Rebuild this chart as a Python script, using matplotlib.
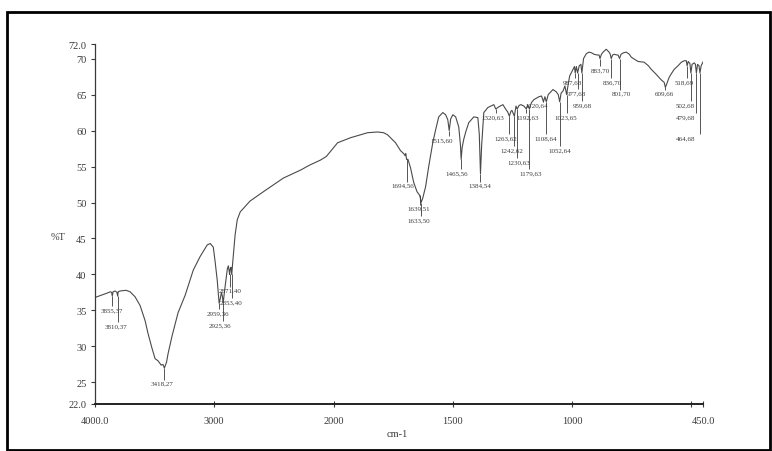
import numpy as np
import matplotlib.pyplot as plt
from matplotlib.patches import Rectangle

# ===== SPECTRUM DATA (wavenumber cm-1, %T) =====
wavenumber = [
    4000, 3950, 3900, 3870, 3860, 3855, 3848, 3830, 3815, 3810, 3805, 3790,
    3740, 3706, 3664, 3622, 3580, 3555, 3521, 3496, 3471, 3445, 3430, 3418,
    3400, 3387, 3353, 3303, 3244, 3176, 3118, 3059, 3034, 3008, 2992, 2975,
    2966, 2959, 2950, 2940, 2932, 2925, 2915, 2900, 2890, 2882, 2876, 2871,
    2866, 2860, 2853, 2846, 2838, 2825, 2807, 2782, 2700, 2588, 2500, 2420,
    2277, 2200, 2109, 2060, 2025, 1983, 1929, 1857, 1815, 1790, 1773, 1740,
    1719, 1706, 1700, 1697, 1694, 1688, 1677, 1664, 1650, 1639, 1636, 1633,
    1626, 1614, 1601, 1584, 1572, 1559, 1542, 1530, 1521, 1515, 1509, 1500,
    1488, 1475, 1468, 1465, 1461, 1454, 1445, 1433, 1412, 1395, 1389, 1384,
    1379, 1374, 1370, 1353, 1328, 1320, 1307, 1290, 1277, 1270, 1263, 1256,
    1252, 1242, 1235, 1230, 1222, 1214, 1202, 1192, 1186, 1179, 1170, 1160,
    1139, 1128, 1120, 1114, 1108, 1100, 1080, 1067, 1058, 1052, 1046, 1038,
    1030, 1023, 1016, 1010, 996, 990, 987, 982, 977, 970, 963, 959,
    952, 940, 929, 918, 908, 895, 887, 883, 877, 870, 857, 845,
    840, 836, 830, 824, 812, 807, 801, 795, 785, 773, 760, 752,
    738, 723, 698, 680, 668, 650, 639, 625, 614, 609, 603, 593,
    582, 572, 556, 542, 530, 521, 518, 513, 506, 502, 497, 488,
    483, 479, 474, 468, 464, 459, 450,
]
transmittance = [
    36.8, 37.1, 37.4, 37.6, 37.5, 37.0, 37.6, 37.7, 37.5, 37.0, 37.6, 37.7,
    37.8, 37.6, 36.9, 35.7, 33.6, 31.8, 29.7, 28.3, 28.0, 27.4, 27.5, 27.0,
    27.8, 29.0, 31.5, 34.7, 37.1, 40.6, 42.5, 44.1, 44.3, 43.8, 41.7, 39.2,
    37.3, 36.0, 36.6, 37.5, 37.0, 36.0, 37.5, 39.5, 40.8, 41.2, 40.6, 40.0,
    40.8, 41.0, 40.0, 41.5, 43.0, 45.5, 47.6, 48.7, 50.2, 51.5, 52.5, 53.4,
    54.5, 55.2, 55.9, 56.4, 57.1, 58.3, 59.0, 59.7, 59.8, 59.7, 59.4, 58.3,
    57.2, 56.8, 56.5, 56.8, 56.0, 56.0, 54.8, 52.8, 51.5, 51.0, 50.6, 50.0,
    50.6, 52.2, 55.0, 58.3, 60.1, 61.9, 62.5, 62.2, 61.5, 60.0, 61.6, 62.2,
    61.9, 60.5, 58.0, 56.0, 57.6, 58.8, 59.9, 61.1, 61.9, 61.8, 59.5, 54.0,
    58.0, 60.5, 62.5, 63.2, 63.6, 63.0, 63.3, 63.6, 62.9, 62.6, 62.0, 62.7,
    62.8, 62.0, 63.4, 63.0, 63.5, 63.6, 63.4, 63.0, 63.6, 63.0, 63.9, 64.3,
    64.7, 64.8, 64.0, 64.7, 64.0, 65.0, 65.7, 65.4, 65.0, 64.0, 65.2, 65.5,
    66.2, 65.0, 66.5, 67.6, 68.5, 68.9, 68.0, 68.9, 68.0, 69.0, 69.2, 68.0,
    70.0, 70.7, 70.9, 70.8, 70.6, 70.5, 70.5, 70.0, 70.6, 70.9, 71.3, 70.9,
    70.6, 70.0, 70.5, 70.6, 70.5, 70.5, 70.0, 70.6, 70.8, 70.9, 70.6, 70.2,
    69.9, 69.6, 69.5, 69.0, 68.5, 67.9, 67.5, 67.0, 66.7, 66.0, 66.5, 67.4,
    68.0, 68.5, 69.0, 69.5, 69.7, 69.7, 69.0, 69.6, 69.3, 68.0, 69.2, 69.4,
    69.2, 68.0, 69.2, 69.0, 68.0, 69.0, 69.6,
]

# ===== PEAK TABLE =====
peak_wn = [3855, 3810, 3418, 2959, 2925, 2871, 2853, 1694, 1639, 1633,
           1515, 1465, 1384, 1320, 1263, 1242, 1230, 1192, 1179, 1120,
           1108, 1052, 1023, 987, 977, 959, 883, 836, 801, 609,
           518, 502, 479, 464]
peak_t = [37, 37, 27, 36, 36, 40, 40, 56, 51, 50,
          60, 56, 54, 63, 62, 62, 63, 63, 63, 64,
          64, 64, 65, 68, 68, 68, 70, 70, 70, 66,
          69, 68, 68, 68]
peak_text = ["3855,37", "3810,37", "3418,27", "2959,36", "2925,36",
             "2871,40", "2853,40", "1694,56", "1639,51", "1633,50",
             "1515,60", "1465,56", "1384,54", "1320,63", "1263,62",
             "1242,62", "1230,63", "1192,63", "1179,63", "1120,64",
             "1108,64", "1052,64", "1023,65", "987,68", "977,68",
             "959,68", "883,70", "836,70", "801,70", "609,66",
             "518,69", "502,68", "479,68", "464,68"]

# label placement (wavenumber of text centre, %T of text centre)
label_x = [3857, 3824, 3437, 2966, 2950, 2866, 2862, 1710, 1643, 1643,
           1546, 1483, 1387, 1332, 1277, 1252, 1223, 1185, 1172, 1147,
           1109, 1050, 1025, 1000, 983, 958, 883, 832, 794, 614,
           530, 525, 525, 525]
label_y = [35.1, 32.9, 24.9, 34.7, 33.0, 37.8, 36.2, 52.4, 49.2, 47.6,
           58.7, 54.1, 52.4, 61.9, 59.0, 57.3, 55.7, 61.9, 54.1, 63.6,
           59.0, 57.3, 61.9, 66.8, 65.3, 63.6, 68.5, 66.8, 65.2, 65.2,
           66.8, 63.6, 61.9, 59.0]


# ===== AXIS SCALE: 2x expansion below 2000 cm-1 =====
def fwd(x):
    x = np.asarray(x, dtype=float)
    return np.where(x >= 2000, x, 2 * x - 2000)


def inv(u):
    u = np.asarray(u, dtype=float)
    return np.where(u >= 2000, u, (u + 2000) / 2)


SERIF = ["Liberation Serif", "DejaVu Serif"]
INK = "#3a3a3a"

fig = plt.figure(figsize=(7.72, 4.52), dpi=100)
ax = fig.add_axes([0.123, 0.104, 0.788, 0.796])
ax.set_xscale("function", functions=(fwd, inv))
ax.set_xlim(4000, 450)
ax.set_ylim(22, 72)

ax.plot(wavenumber, transmittance, color="#4a4a4a", lw=0.8)

# peak markers and labels
for wn, t, txt, lx, ly in zip(peak_wn, peak_t, peak_text, label_x, label_y):
    ax.vlines(wn, ly + 0.5, t, color=INK, lw=0.6)
    ax.text(lx, ly, txt, fontsize=5, family=SERIF, color=INK,
            ha="center", va="center")

# axes styling
for side in ["top", "right"]:
    ax.spines[side].set_visible(False)
ax.spines["left"].set_color(INK)
ax.spines["left"].set_linewidth(0.9)
ax.spines["bottom"].set_color("#222222")
ax.spines["bottom"].set_linewidth(1.4)

ax.set_yticks([22, 25, 30, 35, 40, 45, 50, 55, 60, 65, 70, 72])
ax.set_yticklabels(["22.0", "25", "30", "35", "40", "45", "50", "55",
                    "60", "65", "70", "72.0"], family=SERIF, fontsize=7.5,
                   color=INK)
ax.set_xticks([4000, 3000, 2000, 1500, 1000, 500, 450])
ax.set_xticklabels(["4000.0", "3000", "2000", "1500", "1000", "", "450.0"],
                   family=SERIF, fontsize=7.5, color=INK)
ax.xaxis.set_minor_locator(plt.NullLocator())
ax.tick_params(axis="y", direction="out", length=3, width=0.8, pad=3,
               colors=INK)
ax.tick_params(axis="x", direction="inout", length=5, width=0.8, pad=6,
               colors=INK)

fig.text(0.065, 0.475, "%T", family=SERIF, fontsize=7.5, color=INK,
         ha="left", va="center")
fig.text(0.515, 0.038, "cm-1", family=SERIF, fontsize=7.5, color=INK,
         ha="center", va="center")

# outer frame
fig.add_artist(Rectangle((0.009, 0.003), 0.988, 0.968,
                         transform=fig.transFigure, fill=False,
                         lw=2, ec="black"))

fig.savefig("out.png", dpi=100, facecolor="white")
